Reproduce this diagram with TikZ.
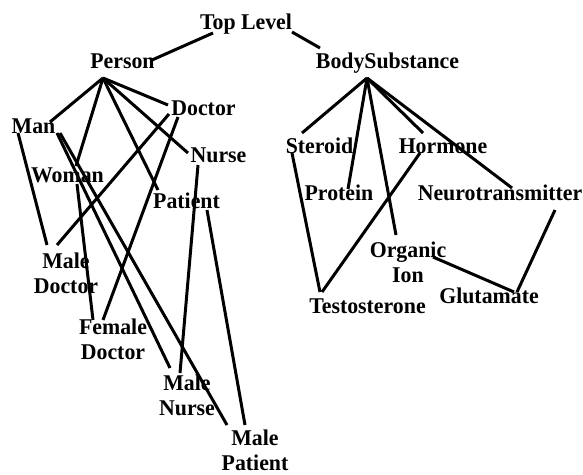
\documentclass[tikz,border=0pt]{standalone}
\usepackage{fontspec}
\setmainfont{Liberation Serif}[FakeStretch=0.97]
\begin{document}
\begin{tikzpicture}[x=1pt,y=-1pt,
  lbl/.style={inner sep=0pt, anchor=base, align=center,
    font=\bfseries\fontsize{22.5}{25}\selectfont},
  link/.style={line width=3pt}]
\useasboundingbox (0,0) rectangle (583,474);

% ---------- labels (base anchor = baseline of the last line) ----------
\node[lbl] (top)     at (246,29)   {Top Level};
\node[lbl] (person)  at (122.5,68) {Person};
\node[lbl] (body)    at (387.5,68) {BodySubstance};

\node[lbl] (man)     at (33.5,133)  {Man};
\node[lbl] (woman)   at (67.5,182)  {Woman};
\node[lbl] (doctor)  at (203.5,115) {Doctor};
\node[lbl] (nurse)   at (218.5,162) {Nurse};
\node[lbl] (patient) at (186.5,208) {Patient};

\node[lbl] (mdoctor)  at (66,293)  {Male\\Doctor};
\node[lbl] (fdoctor)  at (113,359) {Female\\Doctor};
\node[lbl] (mnurse)   at (187,415) {Male\\Nurse};
\node[lbl] (mpatient) at (255,470.5) {Male\\Patient};

\node[lbl] (steroid) at (319.5,153) {Steroid};
\node[lbl] (hormone) at (443,153)   {Hormone};
\node[lbl] (protein) at (339,200)   {Protein};
\node[lbl] (neuro)   at (500,200)   {Neurotransmitter};
\node[lbl] (organic) at (408,282)   {Organic\\Ion};
\node[lbl] (testo)   at (367.5,313) {Testosterone};
\node[lbl] (gluta)   at (489,303)   {Glutamate};

% ---------- connector end points ----------
\coordinate (top-l) at (213,33);
\coordinate (top-r) at (292,32);
\coordinate (person-r) at (152,60);
\coordinate (body-l) at (320,48);
\coordinate (person-hub) at (103,78);
\coordinate (body-hub) at (367,78);

\coordinate (man-in) at (50,122);
\coordinate (man-l) at (18,133);
\coordinate (man-r1) at (57,133);
\coordinate (man-r2) at (60,133);
\coordinate (woman-in) at (76,166);
\coordinate (woman-out) at (77,184);
\coordinate (doctor-in) at (168,105);
\coordinate (doctor-o1) at (169,114);
\coordinate (doctor-o2) at (178,117);
\coordinate (nurse-in) at (188,153);
\coordinate (nurse-out) at (198,165);
\coordinate (patient-in) at (158,190);
\coordinate (patient-out) at (207,210);
\coordinate (mdoctor-l) at (47,245);
\coordinate (mdoctor-r) at (57,245);
\coordinate (fdoctor-l) at (93,320);
\coordinate (fdoctor-r) at (103,320);
\coordinate (mnurse-l) at (170,368);
\coordinate (mnurse-r) at (180,373);
\coordinate (mpatient-l) at (227,425);
\coordinate (mpatient-r) at (245,425);

\coordinate (steroid-in) at (302,133);
\coordinate (steroid-out) at (292,153);
\coordinate (protein-in) at (348,189);
\coordinate (organic-in) at (396,235);
\coordinate (organic-out) at (433,257);
\coordinate (hormone-in) at (423,133);
\coordinate (hormone-out) at (420,153);
\coordinate (neuro-in) at (512,188);
\coordinate (neuro-out) at (555,210);
\coordinate (testo-l) at (320,292);
\coordinate (testo-r) at (322,292);
\coordinate (gluta-l) at (514,292);
\coordinate (gluta-r) at (517,292);

% ---------- connectors ----------
\draw[link] (top-l) -- (person-r);
\draw[link] (top-r) -- (body-l);

\draw[link] (person-hub) -- (man-in);
\draw[link] (person-hub) -- (woman-in);
\draw[link] (person-hub) -- (doctor-in);
\draw[link] (person-hub) -- (nurse-in);
\draw[link] (person-hub) -- (patient-in);

\draw[link] (man-l) -- (mdoctor-l);
\draw[link] (man-r1) -- (mnurse-l);
\draw[link] (man-r2) -- (mpatient-l);
\draw[link] (woman-out) -- (fdoctor-l);
\draw[link] (doctor-o1) -- (mdoctor-r);
\draw[link] (doctor-o2) -- (fdoctor-r);
\draw[link] (nurse-out) -- (mnurse-r);
\draw[link] (patient-out) -- (mpatient-r);

\draw[link] (body-hub) -- (steroid-in);
\draw[link] (body-hub) -- (protein-in);
\draw[link] (body-hub) -- (organic-in);
\draw[link] (body-hub) -- (hormone-in);
\draw[link] (body-hub) -- (neuro-in);

\draw[link] (steroid-out) -- (testo-l);
\draw[link] (hormone-out) -- (testo-r);
\draw[link] (organic-out) -- (gluta-l);
\draw[link] (neuro-out) -- (gluta-r);
\end{tikzpicture}
\end{document}
